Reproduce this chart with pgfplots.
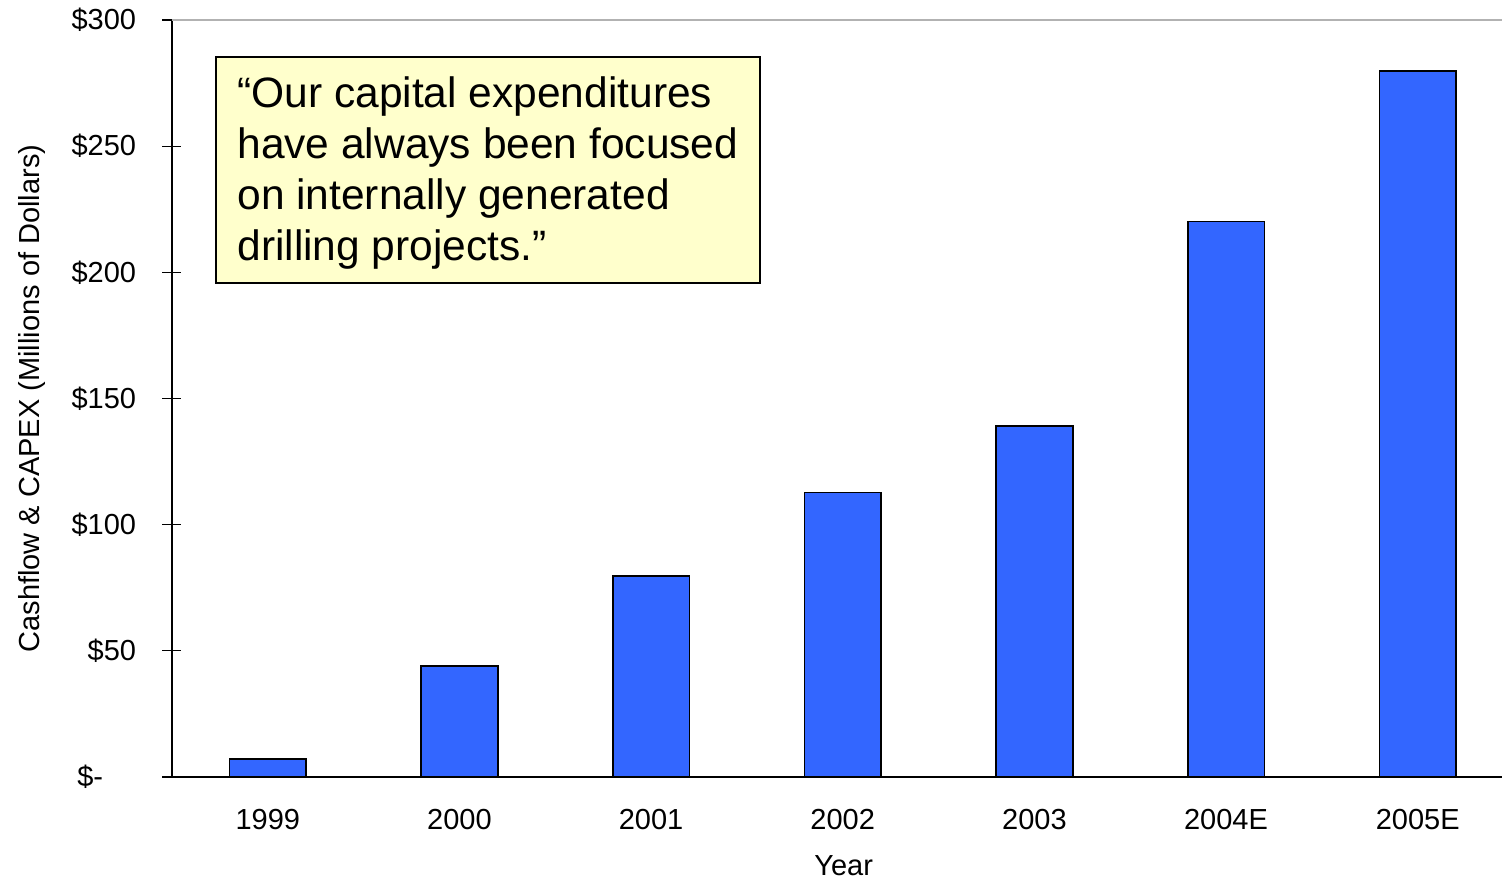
\documentclass[border=0pt]{standalone}
\usepackage{pgfplots}
\pgfplotsset{compat=1.18}
\usepackage{fontspec}
\setmainfont{Liberation Sans}
\definecolor{barblue}{HTML}{3366FF}
\definecolor{boxyellow}{HTML}{FFFFCC}
\begin{document}
\begin{tikzpicture}
\useasboundingbox (-86pt,-51.5pt) rectangle (665pt,388.5pt);
\begin{axis}[
  at={(0pt,0pt)}, anchor=south west,
  scale only axis, width=665pt, height=378.5pt,
  xmin=-0.5, xmax=6.44, ymin=0, ymax=300,
  axis lines*=left,
  axis line style={black, line width=0.75pt},
  xtick={0,...,6},
  xticklabels={1999,2000,2001,2002,2003,2004E,2005E},
  ytick={0,50,...,300},
  yticklabels={\$-\hspace*{16.5pt},\$50,\$100,\$150,\$200,\$250,\$300},
  tick align=center,
  x tick style={draw=none},
  y tick style={black, line width=0.6pt},
  major tick length=9.5pt,
  tick label style={font=\fontsize{14.5}{17}\selectfont},
  yticklabel style={anchor=east, inner sep=0pt, xshift=-13pt},
  xticklabel style={anchor=base, inner sep=0pt, yshift=-21.5pt},
  xlabel={Year},
  ylabel={Cashflow \& CAPEX (Millions of Dollars)},
  label style={font=\fontsize{14.5}{17}\selectfont},
  xlabel style={at={(axis description cs:0.505,-0.12946)}, anchor=base, inner sep=0pt},
  ylabel style={at={(axis description cs:-0.0995,0.5)}, anchor=base, inner sep=0pt},
  clip=false
]
\addplot[ybar, bar width=0.4, fill=barblue, draw=black, line width=0.8pt]
  coordinates {(0,7.1) (1,44) (2,79.7) (3,112.7) (4,139.2) (5,220.1) (6,279.8)};
\draw[gray!60, line width=0.6pt] (rel axis cs:0,1) -- (rel axis cs:1,1);
\end{axis}
\draw[fill=boxyellow, line width=0.75pt] (22pt,247pt) rectangle (294pt,360pt);
\begin{scope}[every node/.style={anchor=base west, inner sep=0pt, font=\fontsize{21.25}{25.5}\selectfont}]
\node at (32.5pt,335pt) {“Our capital expenditures};
\node at (32.5pt,309.5pt) {have always been focused};
\node at (32.5pt,284pt) {on internally generated};
\node at (32.5pt,258.5pt) {drilling projects.”};
\end{scope}
\end{tikzpicture}
\end{document}
